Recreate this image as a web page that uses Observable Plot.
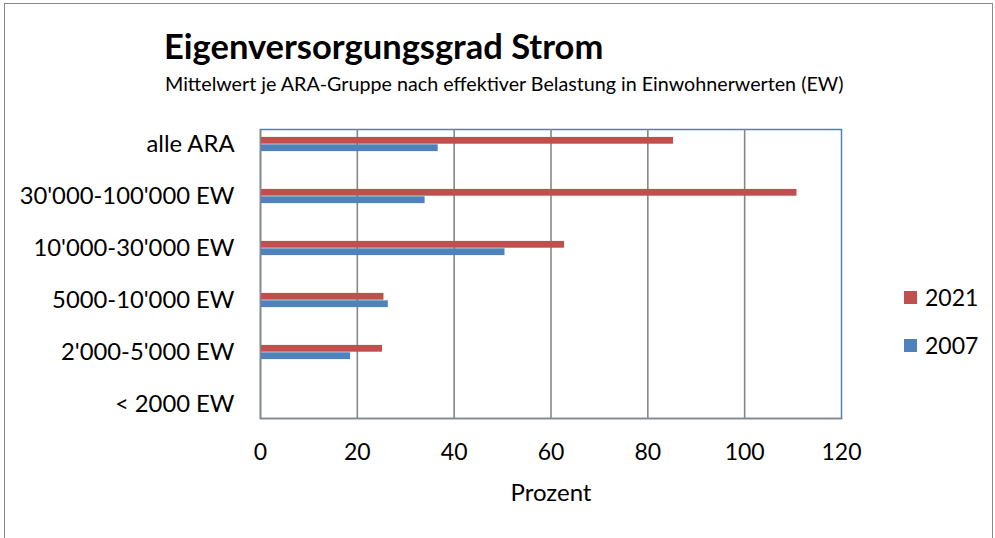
<!DOCTYPE html>
<html>
<head>
<meta charset="utf-8">
<script src="https://cdn.jsdelivr.net/npm/d3@7"></script>
<script src="https://cdn.jsdelivr.net/npm/@observablehq/plot@0.6"></script>
<style>
  html, body { margin: 0; padding: 0; background: #fff; }
  #wrap { position: relative; width: 995px; height: 538px; overflow: hidden; font-family: Lato, "Open Sans", sans-serif; color: #000; }
  #outer { position: absolute; left: 4px; top: 3px; width: 989px; height: 600px; border: 1.5px solid #8a8a8a; box-sizing: border-box; }
  #chart { position: absolute; left: 0; top: 0; }
  #title { position: absolute; left: 164px; top: 29px; font-weight: bold; font-size: 34.5px; line-height: 1; white-space: nowrap; }
  #subtitle { position: absolute; left: 165px; top: 74px; font-size: 19.7px; line-height: 1; white-space: nowrap; }
  #legend { position: absolute; left: 904px; top: 0; }
  .lg { position: absolute; left: 0; display: flex; align-items: center; font-size: 23px; line-height: 1; white-space: nowrap; }
  .sw { width: 13px; height: 13px; margin-right: 8px; }
</style>
</head>
<body>
<div id="wrap">
  <div id="outer"></div>
  <div id="chart"></div>
  <div id="title">Eigenversorgungsgrad Strom</div>
  <div id="subtitle">Mittelwert je ARA-Gruppe nach effektiver Belastung in Einwohnerwerten (EW)</div>
  <div id="legend"></div>
</div>
<script>
// ---- data ----
const categories = ["alle ARA", "30'000-100'000 EW", "10'000-30'000 EW", "5000-10'000 EW", "2'000-5'000 EW", "< 2000 EW"];
const series = ["2021", "2007"];
const values2021 = [85.3, 110.8, 62.8, 25.5, 25.2, null];
const values2007 = [36.7, 34.0, 50.5, 26.4, 18.6, null];
const xTicks = [0, 20, 40, 60, 80, 100, 120];
const seriesColors = ["#C0504D", "#4F81BD"];
const xLabel = "Prozent";

const rows = [];
categories.forEach((c, i) => {
  rows.push({category: c, series: "2021", value: values2021[i]});
  rows.push({category: c, series: "2007", value: values2007[i]});
});
const gridTicks = xTicks.filter(t => t > 0 && t < 120);

const W = 995, H = 538;
const band = (431.6 - 116) / categories.length;
const barH = 7.4;

const plot = Plot.plot({
  width: W,
  height: H,
  marginLeft: 260,
  marginRight: 154,
  marginTop: 129,
  marginBottom: 120,
  style: {fontFamily: "Lato, 'Open Sans', sans-serif", background: "transparent", overflow: "visible"},
  x: {domain: [0, 120], ticks: xTicks},
  y: {domain: categories, range: [116, 431.6], padding: 0},
  color: {domain: series, range: seriesColors},
  marks: [
    Plot.frame({stroke: "#4F81BD", strokeWidth: 1.5}),
    Plot.ruleX(gridTicks, {stroke: "#878787", strokeWidth: 1.6}),
    Plot.barX(rows.filter(d => d.series === "2021" && d.value != null), {
      x: "value", y: "category", fill: "series",
      insetTop: band / 2 - barH, insetBottom: band / 2
    }),
    Plot.barX(rows.filter(d => d.series === "2007" && d.value != null), {
      x: "value", y: "category", fill: "series",
      insetTop: band / 2, insetBottom: band / 2 - barH
    }),
    Plot.ruleX([0], {stroke: "#878787", strokeWidth: 1.6}),
    Plot.frame({anchor: "bottom", stroke: "#878787", strokeWidth: 1.6}),
    Plot.axisY({tickSize: 0, tickPadding: 26, fontSize: 23.8, label: null, fill: "#000"}),
    Plot.axisX(xTicks, {tickSize: 0, tickPadding: 25, fontSize: 23, label: null, fill: "#000"}),
    Plot.text([xLabel], {frameAnchor: "bottom", dx: 0, dy: 75, fontSize: 24, lineAnchor: "middle", fill: "#000"})
  ]
});
document.getElementById("chart").appendChild(plot);

const legend = document.getElementById("legend");
const legendY = [297, 345];
series.forEach((s, i) => {
  const item = document.createElement("div");
  item.className = "lg";
  item.style.top = (legendY[i] - 11) + "px";
  item.style.height = "22px";
  const sw = document.createElement("div");
  sw.className = "sw";
  sw.style.background = seriesColors[i];
  const tx = document.createElement("span");
  tx.textContent = s;
  item.appendChild(sw);
  item.appendChild(tx);
  legend.appendChild(item);
});
</script>
</body>
</html>
